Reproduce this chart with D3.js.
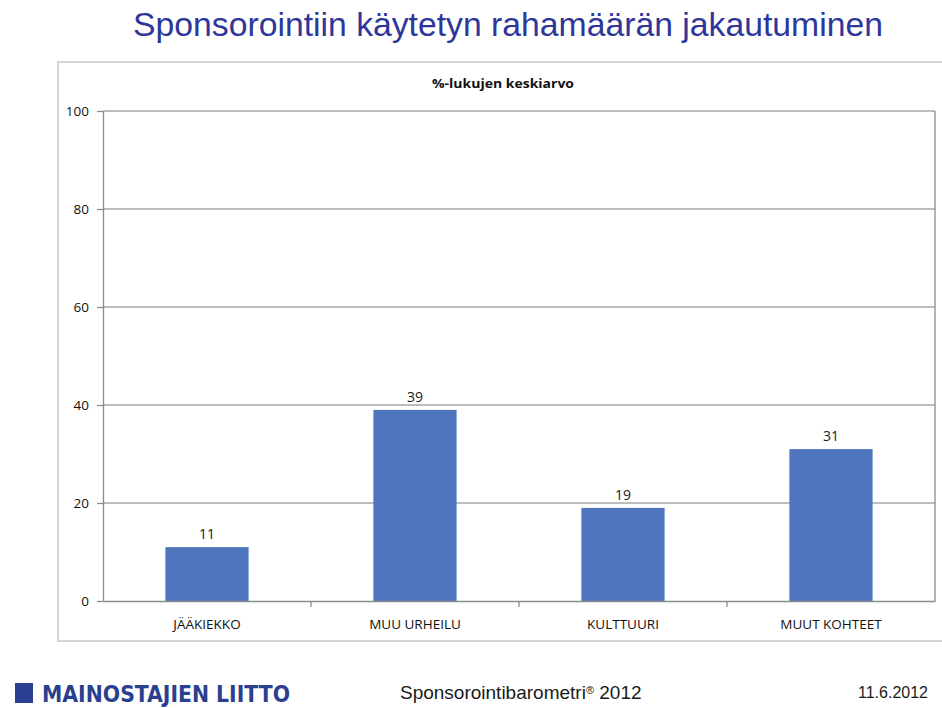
<!DOCTYPE html>
<html>
<head>
<meta charset="utf-8">
<script src="https://cdn.jsdelivr.net/npm/d3@7"></script>
<style>
	body { margin: 0; background: #fff; }
	svg { display: block; }
</style>
</head>
<body>
<svg id="chart" width="942" height="708"></svg>
<script>
var categories = ["JÄÄKIEKKO", "MUU URHEILU", "KULTTUURI", "MUUT KOHTEET"];
var values = [11, 39, 19, 31];
var yTicks = [0, 20, 40, 60, 80, 100];

var pageTitle = "Sponsorointiin käytetyn rahamäärän jakautuminen";
var chartTitle = "%-lukujen keskiarvo";

function data() {
	return categories.map((c, i) => ({"Category": c, "Value": values[i]}));
}

var svg = d3.select("#chart"),
	margin = {top: 111, left: 103, bottom: 107, right: 7},
	width = +svg.attr("width"),
	height = +svg.attr("height");

var labelFont = "'Open Sans', 'Noto Sans', sans-serif";

// page title
svg.append("text")
	.attr("x", 508)
	.attr("y", 36)
	.attr("text-anchor", "middle")
	.attr("textLength", 750)
	.attr("lengthAdjust", "spacingAndGlyphs")
	.style("font-family", "'Liberation Sans', Arial, sans-serif")
	.style("font-size", "33px")
	.attr("fill", "#2e3799")
	.text(pageTitle);

// outer chart frame
svg.append("rect")
	.attr("x", 58)
	.attr("y", 62)
	.attr("width", 900)
	.attr("height", 579)
	.attr("fill", "none")
	.attr("stroke", "#d4d4d4")
	.attr("stroke-width", 2);

svg.append("text")
	.attr("x", 503)
	.attr("y", 88)
	.attr("text-anchor", "middle")
	.attr("textLength", 142)
	.attr("lengthAdjust", "spacingAndGlyphs")
	.style("font-family", labelFont)
	.style("font-size", "13px")
	.style("font-weight", "bold")
	.attr("fill", "#111")
	.text(chartTitle);

var x = d3.scaleBand()
	.range([margin.left, width - margin.right])
	.padding(0)
	.domain(categories);

var y = d3.scaleLinear()
	.range([height - margin.bottom, margin.top])
	.domain([0, 100]);

// gridlines
svg.selectAll(".grid")
	.data(yTicks.filter(d => d > 0))
	.enter().append("line")
	.attr("class", "grid")
	.attr("x1", margin.left)
	.attr("x2", width - margin.right)
	.attr("y1", d => y(d))
	.attr("y2", d => y(d))
	.attr("stroke", "#a6a6a6")
	.attr("stroke-width", 1.3);

// right border of plot
svg.append("line")
	.attr("x1", width - margin.right)
	.attr("x2", width - margin.right)
	.attr("y1", y(100))
	.attr("y2", y(0))
	.attr("stroke", "#8c8c8c")
	.attr("stroke-width", 1.3);

var bw = x.bandwidth() * 0.4;

svg.selectAll(".bar")
	.data(data())
	.enter().append("rect")
	.attr("class", "bar")
	.attr("fill", "#4f75bd")
	.attr("x", d => x(d.Category) + (x.bandwidth() - bw) / 2)
	.attr("width", bw)
	.attr("y", d => y(d.Value))
	.attr("height", d => y(0) - y(d.Value));

svg.selectAll(".labels")
	.data(data())
	.enter().append("text")
	.attr("class", "labels")
	.attr("x", d => x(d.Category) + x.bandwidth() / 2)
	.attr("y", d => y(d.Value) - 8)
	.attr("text-anchor", "middle")
	.style("font-family", labelFont)
	.style("font-size", "14px")
	.attr("fill", "#1a1a1a")
	.text(d => d.Value);

// y axis
var yAxis = svg.append("g")
	.attr("class", "y-axis")
	.attr("transform", `translate(${margin.left},0)`)
	.call(d3.axisLeft(y).tickValues(yTicks).tickSize(6).tickSizeOuter(0).tickPadding(8));

// x axis
var xAxis = svg.append("g")
	.attr("class", "x-axis")
	.attr("transform", `translate(0,${y(0)})`)
	.call(d3.axisBottom(x).tickSize(0).tickPadding(18));

// category boundary ticks
svg.selectAll(".xtick")
	.data(categories.slice(1))
	.enter().append("line")
	.attr("class", "xtick")
	.attr("x1", d => x(d))
	.attr("x2", d => x(d))
	.attr("y1", y(0))
	.attr("y2", y(0) + 6)
	.attr("stroke", "#8c8c8c")
	.attr("stroke-width", 1.3);

svg.selectAll(".y-axis path, .x-axis path, .y-axis line")
	.attr("stroke", "#8c8c8c")
	.attr("stroke-width", 1.3);

svg.selectAll(".y-axis text, .x-axis text")
	.style("font-family", labelFont)
	.style("font-size", "13.5px")
	.attr("fill", "#111");

// footer
svg.append("rect")
	.attr("x", 15)
	.attr("y", 683)
	.attr("width", 18)
	.attr("height", 20)
	.attr("fill", "#2b3f93");

svg.append("text")
	.attr("x", 42)
	.attr("y", 702)
	.attr("textLength", 248)
	.attr("lengthAdjust", "spacingAndGlyphs")
	.style("font-family", "'Liberation Sans Narrow', 'DejaVu Sans Condensed', sans-serif")
	.style("font-size", "23px")
	.style("font-weight", "bold")
	.attr("fill", "#2b3f8f")
	.text("MAINOSTAJIEN LIITTO");

var foot = svg.append("text")
	.attr("x", 400)
	.attr("y", 699)
	.style("font-family", "'Liberation Sans', Arial, sans-serif")
	.style("font-size", "19px")
	.attr("fill", "#1a1a1a");
foot.append("tspan").text("Sponsorointibarometri");
foot.append("tspan").style("font-size", "11px").attr("dy", -5).text("®");
foot.append("tspan").attr("dy", 5).text(" 2012");

svg.append("text")
	.attr("x", 928)
	.attr("y", 698)
	.attr("text-anchor", "end")
	.style("font-family", "'Liberation Sans', Arial, sans-serif")
	.style("font-size", "16px")
	.attr("fill", "#1a1a1a")
	.text("11.6.2012");
</script>
</body>
</html>
